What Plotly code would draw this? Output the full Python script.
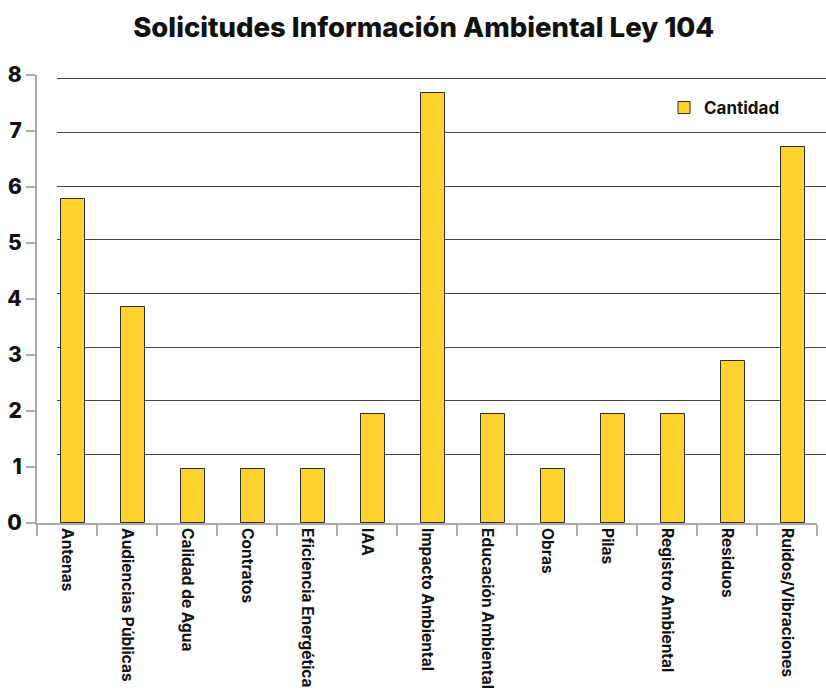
import plotly.graph_objects as go

# Solicitudes de información ambiental (Ley 104) por tema
categorias = [
    "Antenas", "Audiencias Públicas", "Calidad de Agua", "Contratos",
    "Eficiencia Energética", "IAA", "Impacto Ambiental", "Educación Ambiental",
    "Obras", "Pilas", "Registro Ambiental", "Residuos", "Ruidos/Vibraciones",
]
cantidad = [5.78, 3.85, 0.96, 0.96, 0.96, 1.94, 7.68, 1.94, 0.96, 1.94, 1.94, 2.9, 6.71]

y_ticks = [0, 1, 2, 3, 4, 5, 6, 7, 8]
grid_levels = [1, 2, 3, 4, 5, 6, 7, 8]

FONT = "Inter"
BAR_FILL = "#FDD22C"
BAR_EDGE = "#2e2e2e"
AXIS_GREY = "#aaaaaa"

fig = go.Figure()

# Bars live on the second subplot (drawn above the grid subplot)
fig.add_trace(go.Bar(
    x=categorias,
    y=cantidad,
    name="Cantidad",
    xaxis="x2",
    yaxis="y2",
    width=0.4,
    offset=-0.1,
    marker=dict(color=BAR_FILL, line=dict(color=BAR_EDGE, width=1)),
    showlegend=True,
))

# Invisible carrier trace for the horizontal rule subplot
fig.add_trace(go.Scatter(
    x=[0, 1], y=[0, 0], mode="lines",
    line=dict(width=0), hoverinfo="skip", showlegend=False,
    xaxis="x", yaxis="y",
))

W, H = 826, 695
ML, MR, MT, MB = 37, 0, 75, 172
plot_w = W - ML - MR

fig.update_layout(
    width=W, height=H,
    margin=dict(l=ML, r=MR, t=MT, b=MB, pad=0),
    paper_bgcolor="white",
    plot_bgcolor="rgba(0,0,0,0)",
    font=dict(family=FONT, color="#111111", weight=700),
    title=dict(
        text="Solicitudes Información Ambiental Ley 104",
        x=0.513, xanchor="center", y=0.96, yanchor="middle",
        font=dict(family=FONT, size=27.5, color="#111111", weight=800),
    ),
    # horizontal rules
    xaxis=dict(domain=[20 / plot_w, 1], range=[0, 1], visible=False, fixedrange=True),
    yaxis=dict(
        range=[-0.2735, 8.068], tickvals=grid_levels, showticklabels=False,
        showgrid=True, gridcolor="#444444", gridwidth=1,
        zeroline=False, showline=False, ticks="", fixedrange=True,
    ),
    # category axis and value axis for the bars
    xaxis2=dict(
        domain=[0, 780 / plot_w], anchor="y2",
        type="category", categoryorder="array", categoryarray=categorias,
        range=[-0.5, len(categorias) - 0.5],
        tickson="boundaries", ticks="outside", ticklen=11, tickwidth=1.5,
        tickcolor=AXIS_GREY, showline=True, linecolor=AXIS_GREY, linewidth=2,
        tickangle=90, tickfont=dict(family=FONT, size=15.5, color="#111111", weight=700),
        showgrid=False, zeroline=False, automargin=False,
    ),
    yaxis2=dict(
        anchor="x2", range=[0, 8], tickvals=y_ticks,
        ticks="outside", ticklen=9, tickwidth=1.5, tickcolor=AXIS_GREY,
        showline=True, linecolor=AXIS_GREY, linewidth=2,
        showgrid=False, zeroline=False, automargin=False,
        tickfont=dict(family=FONT, size=21, color="#111111", weight=800),
    ),
    legend=dict(
        x=(664 - ML) / plot_w, xanchor="left",
        y=(H - MB - 108) / (H - MT - MB), yanchor="middle",
        bgcolor="rgba(0,0,0,0)",
        font=dict(family=FONT, size=17, color="#111111", weight=700),
        itemwidth=30,
    ),
    bargap=0,
)

fig.write_html("out.html")
